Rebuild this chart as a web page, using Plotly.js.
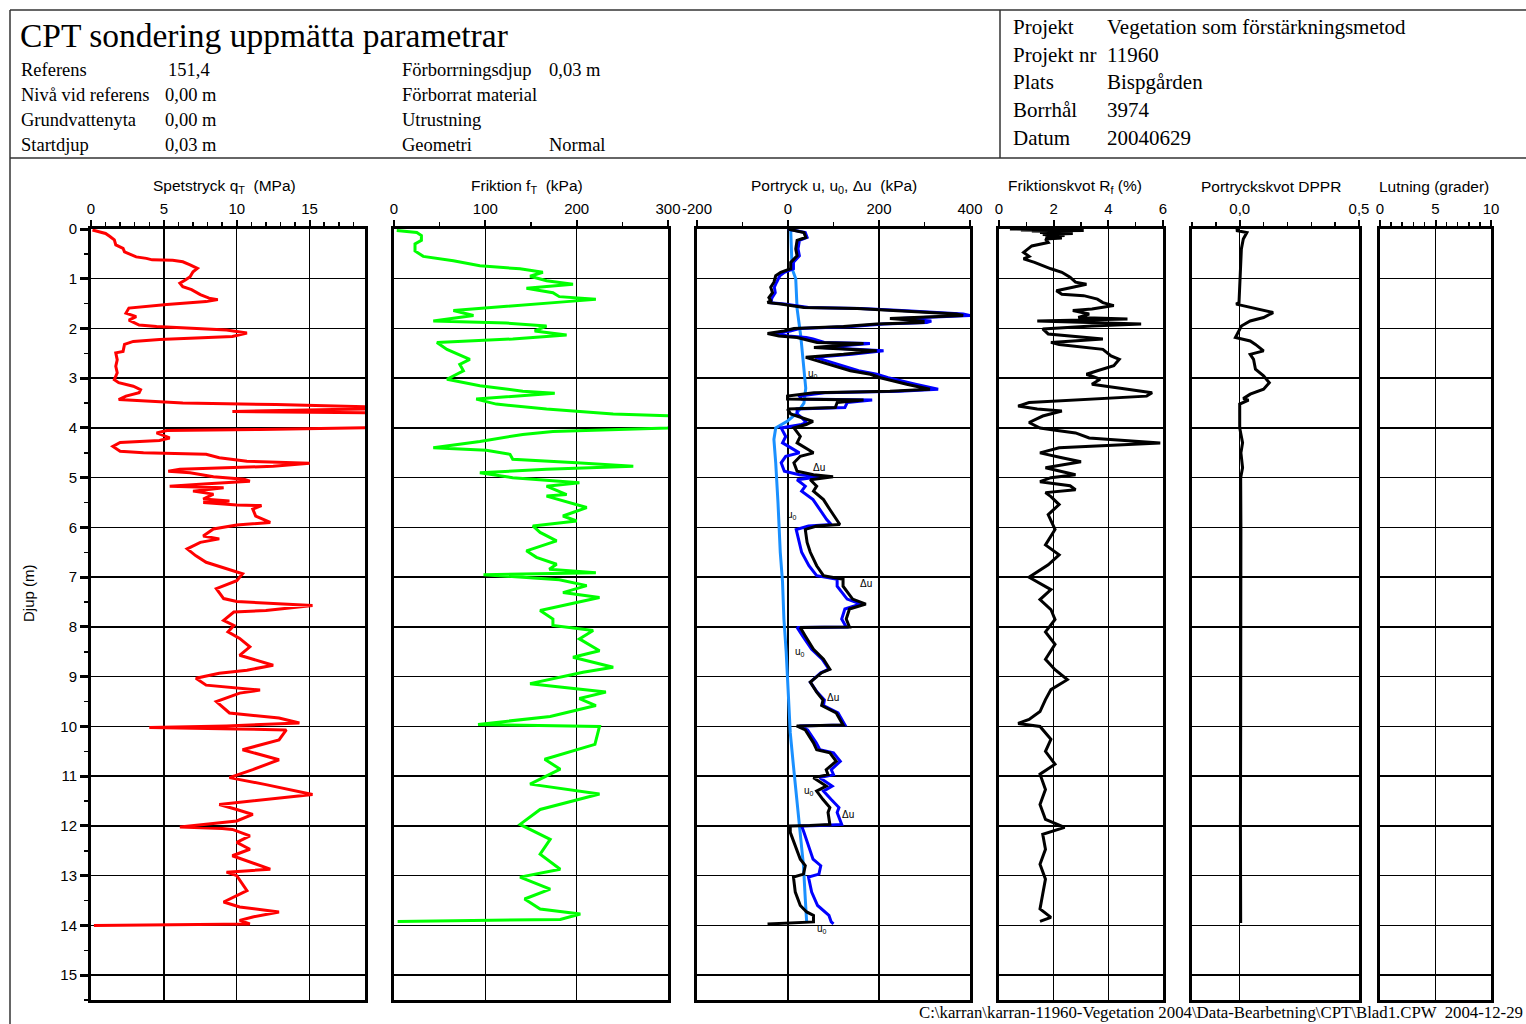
<!DOCTYPE html>
<html>
<head>
<meta charset="utf-8">
<script src="https://cdn.plot.ly/plotly-3.0.1.min.js"></script>
<style>html,body{margin:0;padding:0;background:#fff;}#chart{width:1526px;height:1024px;}</style>
</head>
<body>
<div id="chart"></div>
<script>
// ---------------- DATA ----------------
const depthTicks = [0,1,2,3,4,5,6,7,8,9,10,11,12,13,14,15];

// Spetstryck qT (MPa)
const qtDepth = [0.02,0.09,0.15,0.22,0.32,0.39,0.46,0.56,0.59,0.62,0.63,0.66,0.72,0.79,0.86,0.96,1.02,1.09,1.16,1.22,1.32,1.39,1.42,1.46,1.52,1.56,1.59,1.69,1.76,1.83,1.93,1.96,1.99,2.03,2.09,2.16,2.22,2.26,2.32,2.46,2.49,2.63,2.76,2.89,3.03,3.09,3.16,3.23,3.29,3.36,3.43,3.46,3.50,3.53,3.56,3.60,3.63,3.67,3.70,3.98,4.03,4.05,4.10,4.20,4.25,4.29,4.37,4.47,4.50,4.53,4.60,4.67,4.71,4.77,4.83,4.87,4.90,4.98,5.03,5.07,5.12,5.17,5.20,5.27,5.33,5.43,5.47,5.50,5.55,5.56,5.63,5.77,5.90,5.95,6.03,6.17,6.23,6.30,6.43,6.57,6.70,6.83,6.93,7.07,7.23,7.43,7.49,7.57,7.67,7.70,7.87,7.97,8.10,8.23,8.40,8.57,8.77,8.87,8.93,9.03,9.17,9.27,9.33,9.50,9.60,9.73,9.83,9.93,9.99,10.02,10.05,10.07,10.27,10.47,10.67,10.87,11.03,11.17,11.37,11.47,11.57,11.67,11.77,11.90,12.02,12.05,12.07,12.20,12.33,12.47,12.60,12.87,12.93,13.00,13.30,13.53,13.63,13.73,13.83,13.90,13.97,14.00];
const qtVal   = [0.1,1.0,1.3,1.6,1.7,2.2,2.3,3.1,3.8,4.2,5.6,6.3,6.8,7.3,7.0,6.8,6.5,6.1,6.3,6.9,7.5,8.1,8.7,7.9,5.2,3.8,2.6,2.4,3.1,2.6,3.3,4.5,6.5,9.3,10.7,9.7,4.7,2.9,2.3,2.2,1.7,1.8,1.7,1.8,1.6,1.9,2.9,3.4,3.3,2.4,1.9,3.8,6.3,12.7,15.7,22,16.6,9.7,22,22,11.6,5.2,4.5,5.4,4.7,2.0,1.5,2.0,3.6,7.9,8.8,10.7,15.0,12.5,6.1,5.3,6.8,8.4,10.5,10.9,8.0,5.4,9.1,7.0,8.4,7.7,9.5,7.7,10.0,11.7,11.1,11.3,12.3,10.0,8.4,7.7,8.8,7.5,6.6,7.2,7.9,9.3,10.4,10.0,8.6,9.1,10.0,15.2,12.0,9.8,9.1,9.8,9.4,10.2,10.9,10.2,12.5,10.7,8.8,7.2,7.9,11.6,10.2,8.6,9.0,9.5,12.9,14.3,9.3,4.0,10.0,13.4,12.9,10.4,12.9,11.1,9.5,12.0,15.2,11.8,8.8,10.0,11.1,10.0,6.1,9.0,9.7,10.9,10.0,10.9,9.7,12.3,9.3,10.0,10.7,9.1,10.2,12.9,11.1,10.2,10.9,0.2];

// Friktion fT (kPa)
const ftDepth = [0.03,0.07,0.13,0.23,0.30,0.44,0.55,0.64,0.74,0.80,0.87,0.95,1.04,1.11,1.19,1.28,1.36,1.41,1.46,1.54,1.60,1.64,1.74,1.85,1.89,1.95,2.05,2.13,2.21,2.28,2.42,2.62,2.72,2.85,3.02,3.15,3.26,3.30,3.42,3.52,3.62,3.72,3.76,3.93,4.00,4.07,4.13,4.27,4.40,4.45,4.53,4.63,4.70,4.77,4.83,4.90,5.00,5.10,5.17,5.34,5.37,5.60,5.77,5.87,5.97,6.10,6.27,6.47,6.60,6.74,6.84,6.91,6.95,7.05,7.17,7.31,7.41,7.51,7.67,7.84,7.97,8.07,8.24,8.48,8.61,8.81,8.91,9.14,9.31,9.44,9.58,9.80,9.96,10.00,10.36,10.66,10.86,11.16,11.36,11.46,11.67,11.97,12.27,12.57,12.87,13.03,13.27,13.47,13.67,13.77,13.88,13.92];
const ftVal   = [3,25,30,30,23,23,32,65,94,138,163,149,167,196,145,174,181,221,189,130,94,65,87,43,123,167,154,189,130,47,58,83,72,76,58,94,141,176,90,112,167,240,310,310,300,174,141,94,43,101,127,130,200,262,167,94,130,203,167,189,167,211,185,200,152,160,178,145,156,178,170,221,98,181,211,185,225,200,160,174,174,218,203,225,196,240,207,149,232,203,221,171,92,225,220,165,182,149,225,204,160,138,171,160,182,138,171,143,160,204,182,4];

// Portryck u0 (kPa)
const u0Depth = [0.03,0.8,1.0,1.6,2.15,2.8,3.2,3.5,3.7,3.86,4.0,4.23,4.7,5.5,6.5,7.1,7.84,8.5,9.18,9.7,10.13,10.8,11.47,12.13,12.8,13.47,13.93];
const u0Val   = [6,9,17,20,28,35,39,35,20,-1,-27,-31,-27,-22,-17,-12,-9,-4,0,4,5,12,19,27,34,38,41];

// Portryck u (kPa)
const uDepth = [0,0.07,0.17,0.23,0.4,0.54,0.67,0.8,0.87,0.94,1.07,1.17,1.28,1.38,1.48,1.51,1.58,1.6,1.64,1.71,1.74,1.8,1.85,1.88,1.91,1.96,2.0,2.05,2.1,2.15,2.18,2.21,2.28,2.3,2.38,2.45,2.52,2.58,2.65,2.75,2.85,2.92,2.99,3.12,3.22,3.26,3.29,3.36,3.42,3.44,3.49,3.59,3.62,3.72,3.79,3.89,3.93,4.0,4.17,4.3,4.5,4.57,4.7,4.87,4.94,4.98,5.04,5.17,5.27,5.44,5.64,5.84,5.94,5.97,6.04,6.3,6.5,6.77,6.97,7.04,7.18,7.44,7.54,7.64,7.84,8.0,8.01,8.18,8.45,8.65,8.85,8.92,9.05,9.11,9.31,9.47,9.58,9.73,9.97,9.99,10.07,10.33,10.47,10.53,10.7,10.87,10.97,11.03,11.2,11.3,11.47,11.63,11.73,11.97,11.99,12.0,12.13,12.4,12.67,12.8,12.97,13.03,13.33,13.6,13.73,13.8,13.93,13.97];
const uVal   = [-1,38,42,25,22,25,12,12,-8,-18,-25,-30,-28,-35,-38,-8,45,160,250,385,400,245,315,305,210,140,25,5,-30,0,40,55,80,180,75,210,140,60,85,120,155,195,220,280,330,245,80,25,30,185,130,125,20,20,30,40,30,-15,-5,-12,25,-5,-15,-8,25,70,20,38,30,55,70,85,95,45,18,24,30,46,63,108,108,130,160,125,118,128,20,32,52,75,90,72,55,49,64,80,78,110,125,25,43,62,70,100,115,95,100,70,97,78,95,112,108,118,70,30,35,45,55,72,68,45,52,65,80,90,95,100];

// Portryck Δu (kPa)
const duDepth = [0,0.07,0.17,0.23,0.4,0.54,0.67,0.8,0.87,0.94,1.07,1.17,1.28,1.38,1.44,1.48,1.51,1.58,1.6,1.64,1.71,1.74,1.8,1.85,1.88,1.91,1.96,2.0,2.05,2.1,2.15,2.18,2.21,2.28,2.3,2.38,2.45,2.52,2.58,2.65,2.75,2.85,2.92,2.99,3.12,3.22,3.26,3.29,3.36,3.42,3.44,3.49,3.59,3.62,3.72,3.79,3.87,3.93,4.0,4.17,4.3,4.5,4.57,4.7,4.87,4.94,4.98,5.04,5.17,5.27,5.44,5.64,5.84,5.94,5.97,6.04,6.3,6.5,6.77,6.97,7.04,7.18,7.44,7.54,7.64,7.84,8.0,8.01,8.18,8.45,8.65,8.85,8.92,9.05,9.11,9.31,9.47,9.58,9.73,9.97,9.99,10.07,10.33,10.47,10.53,10.7,10.87,10.97,11.03,11.2,11.3,11.47,11.63,11.73,11.97,11.99,12.0,12.13,12.4,12.67,12.8,12.97,13.03,13.33,13.6,13.73,13.8,13.93,13.97];
const duVal   = [-1,35,39,20,17,20,6,6,-16,-27,-31,-38,-34,-42,-38,-45,-16,35,152,239,370,385,224,297,297,195,122,13,-9,-45,-20,20,35,64,166,57,195,122,39,64,101,137,181,203,261,312,224,57,-1,-1,166,108,104,-1,6,28,55,40,13,27,20,56,27,13,20,56,99,49,63,56,78,92,106,114,63,38,42,49,63,78,121,121,142,171,135,128,135,27,38,56,78,92,74,56,49,63,77,74,106,121,19,38,56,63,92,106,84,88,56,84,63,77,92,88,92,48,5,5,16,27,38,34,12,16,27,41,56,56,-45];

// Friktionskvot Rf (%)
const rfDepth = [0.0,0.01,0.02,0.03,0.04,0.05,0.07,0.09,0.11,0.13,0.15,0.18,0.2,0.27,0.34,0.47,0.55,0.6,0.67,0.8,0.87,0.97,1.07,1.11,1.17,1.24,1.31,1.34,1.41,1.48,1.54,1.61,1.64,1.71,1.78,1.81,1.85,1.91,1.95,2.01,2.11,2.21,2.28,2.32,2.42,2.55,2.62,2.75,2.85,2.92,3.02,3.12,3.22,3.29,3.36,3.42,3.49,3.56,3.62,3.66,3.76,3.89,4.0,4.04,4.1,4.2,4.3,4.4,4.5,4.6,4.68,4.8,4.94,5.0,5.08,5.16,5.24,5.3,5.38,5.54,5.74,6.04,6.35,6.55,6.75,7.0,7.25,7.45,7.65,7.85,8.1,8.35,8.65,8.86,9.06,9.26,9.46,9.7,9.86,9.94,10.0,10.26,10.5,10.76,10.96,11.27,11.57,11.87,12.03,12.17,12.47,12.77,13.07,13.37,13.67,13.84,13.92];
const rfVal   = [0.4,2.0,0.8,3.1,1.2,2.5,1.5,2.7,1.6,2.4,1.7,2.3,1.7,1.8,1.2,0.9,1.1,0.9,1.3,1.9,2.3,2.6,2.8,3.2,2.7,2.1,2.3,3.1,3.6,3.8,4.2,3.4,2.7,3.3,2.9,4.7,1.4,5.2,3.4,1.6,1.8,3.8,1.9,2.2,3.8,4.1,4.4,4.2,3.6,3.2,3.7,3.4,4.7,5.6,5.4,3.2,1.1,0.7,1.4,2.3,1.6,1.1,1.5,2.0,2.8,3.3,5.9,2.2,1.5,2.3,3.0,1.7,2.8,1.9,1.5,2.6,2.8,1.7,1.9,2.2,1.8,2.05,1.7,2.2,1.8,1.1,1.9,1.5,1.9,2.05,1.7,2.05,1.7,2.05,2.5,1.9,1.7,1.5,1.1,0.7,1.5,1.9,1.7,2.05,1.5,1.7,1.5,1.7,2.4,1.6,1.7,1.5,1.7,1.6,1.5,1.9,1.5];

// Portryckskvot DPPR
const dpDepth = [0.0,0.03,0.07,0.2,0.4,1.0,1.48,1.51,1.61,1.68,1.78,1.85,1.95,2.01,2.18,2.25,2.32,2.45,2.52,2.62,2.82,2.95,3.09,3.22,3.32,3.41,3.44,3.52,4.0,4.3,4.5,4.8,5.0,6.0,8.0,10.0,12.0,13.95];
const dpVal   = [0.0,-0.015,0.03,0.015,0.007,0.0,-0.003,-0.015,0.073,0.14,0.1,0.044,0.007,0.0,-0.018,0.044,0.066,0.1,0.044,0.058,0.066,0.1,0.124,0.1,0.044,0.015,0.037,0.0,0.0,0.012,0.005,0.012,0.004,0.005,0.006,0.004,0.003,0.004];

// Axis tick labels
const qtTicks = [0,5,10,15];
const ftTicks = [0,100,200,300];
const uTicks  = [-200,0,200,400];
const rfTicks = [0,2,4,6];
const dpTicks = [0,0.5];
const dpTickText = ['0,0','0,5'];
const lutTicks = [0,5,10];

// Labels on the pore pressure curves
const uLabelText  = ['u<sub>0</sub>','Δu','u<sub>0</sub>','Δu','u<sub>0</sub>','Δu','u<sub>0</sub>','Δu','u<sub>0</sub>'];
const uLabelDepth = [2.91,4.8,5.74,7.13,8.51,9.42,11.3,11.77,14.08];
const uLabelVal   = [40,50,-7,154,11,81,31,114,59];

// ---------------- LAYOUT ----------------
const W = 1526, H = 1024;
const px = v => v / W;
const py = v => 1 - v / H;
const yDom = [py(1000), py(229)];
const SANS = 'Liberation Sans, Arial, sans-serif';
const SERIF = 'Liberation Serif, Times New Roman, serif';

const panelPix = [[91,365],[394,668],[697,970],[999,1163],[1192,1359],[1380,1491]];

function xAxis(i, range, tickvals, ticktext, minorVals) {
  return {
    domain: [px(panelPix[i][0]), px(panelPix[i][1])],
    range: range, side: 'top', anchor: i === 0 ? 'y' : 'y' + (i + 1),
    tickmode: 'array', tickvals: tickvals, ticktext: ticktext,
    ticks: 'outside', ticklen: 6, tickwidth: 2, tickcolor: '#000',
    showgrid: true, gridcolor: '#000', gridwidth: 1.5,
    zeroline: false, showline: true, linecolor: '#000', linewidth: 3, mirror: true,
    tickfont: {family: SANS, size: 15, color: '#000'},
    minor: {tickmode: 'array', tickvals: minorVals, ticks: 'outside', ticklen: 4, tickwidth: 1.5, tickcolor: '#000', showgrid: false},
    fixedrange: true
  };
}
function yAxis(i) {
  const first = i === 0;
  return {
    domain: yDom, range: [15.5, 0], anchor: first ? 'x' : 'x' + (i + 1),
    tickmode: 'array', tickvals: depthTicks,
    showticklabels: first, ticks: first ? 'outside' : '', ticklen: 8, tickwidth: 3, tickcolor: '#000',
    showgrid: true, gridcolor: '#000', gridwidth: 1.5,
    zeroline: false, showline: true, linecolor: '#000', linewidth: 3, mirror: true,
    tickfont: {family: SANS, size: 15, color: '#000'},
    minor: first ? {dtick: 0.5, ticks: 'outside', ticklen: 4, tickwidth: 1.5, tickcolor: '#000', showgrid: false} : {ticks: '', showgrid: false},
    fixedrange: true
  };
}

const layout = {
  width: W, height: H, margin: {l: 0, r: 0, t: 0, b: 0},
  paper_bgcolor: '#fff', plot_bgcolor: '#fff', showlegend: false,
  font: {family: SANS, color: '#000'},
  xaxis:  xAxis(0, [0, 18.8], qtTicks, qtTicks.map(String), [1,2,3,4,6,7,8,9,11,12,13,14,16,17,18]),
  xaxis2: xAxis(1, [0, 300], ftTicks, ftTicks.map(String), [50,150,250]),
  xaxis3: xAxis(2, [-200, 400], uTicks, uTicks.map(String), [-100,100,300]),
  xaxis4: xAxis(3, [0, 6], rfTicks, rfTicks.map(String), [1,3,5]),
  xaxis5: xAxis(4, [-0.2, 0.5], dpTicks, dpTickText, [-0.2,-0.1,0.1,0.2,0.3,0.4]),
  xaxis6: xAxis(5, [0, 10], lutTicks, lutTicks.map(String), [1,2,3,4,6,7,8,9]),
  yaxis: yAxis(0), yaxis2: yAxis(1), yaxis3: yAxis(2), yaxis4: yAxis(3), yaxis5: yAxis(4), yaxis6: yAxis(5),
  shapes: [
    {type:'line', xref:'paper', yref:'paper', x0:px(10), x1:1, y0:py(10), y1:py(10), line:{color:'#333', width:1.5}},
    {type:'line', xref:'paper', yref:'paper', x0:px(10), x1:1, y0:py(158), y1:py(158), line:{color:'#333', width:1.5}},
    {type:'line', xref:'paper', yref:'paper', x0:px(10), x1:px(10), y0:py(10), y1:0, line:{color:'#333', width:1.5}},
    {type:'line', xref:'paper', yref:'paper', x0:px(1000), x1:px(1000), y0:py(10), y1:py(158), line:{color:'#333', width:1.5}}
  ],
  annotations: []
};

function txt(text, x, y, opts) {
  layout.annotations.push(Object.assign({
    text: text, xref: 'paper', yref: 'paper', x: px(x), y: py(y),
    xanchor: 'left', yanchor: 'middle', showarrow: false,
    font: {family: SERIF, size: 18.5, color: '#000'}
  }, opts || {}));
}

// header
txt('CPT sondering uppmätta parametrar', 18, 35, {font: {family: SERIF, size: 33.5, color: '#000'}});
const hdrL = ['Referens', 'Nivå vid referens', 'Grundvattenyta', 'Startdjup'];
const hdrLV = ['151,4', '0,00 m', '0,00 m', '0,03 m'];
const hdrM = ['Förborrningsdjup', 'Förborrat material', 'Utrustning', 'Geometri'];
const hdrMV = ['0,03 m', '', '', 'Normal'];
const rowY = [70, 95, 120, 145];
hdrL.forEach((t, i) => txt(t, 19, rowY[i]));
hdrLV.forEach((t, i) => { if (i === 0) txt(t, 212, rowY[i], {xanchor: 'right'}); else txt(t, 163, rowY[i]); });
hdrM.forEach((t, i) => txt(t, 400, rowY[i]));
hdrMV.forEach((t, i) => { if (t) txt(t, 547, rowY[i]); });
const hdrR = ['Projekt', 'Projekt nr', 'Plats', 'Borrhål', 'Datum'];
const hdrRV = ['Vegetation som förstärkningsmetod', '11960', 'Bispgården', '3974', '20040629'];
const rowYR = [27, 55, 82, 110, 138];
hdrR.forEach((t, i) => txt(t, 1011, rowYR[i], {font: {family: SERIF, size: 21, color: '#000'}}));
hdrRV.forEach((t, i) => txt(t, 1105, rowYR[i], {font: {family: SERIF, size: 21, color: '#000'}}));

// panel titles
const titles = ['Spetstryck q<sub>T</sub>  (MPa)', 'Friktion f<sub>T</sub>  (kPa)', 'Portryck u, u<sub>0</sub>, Δu  (kPa)', 'Friktionskvot R<sub>f</sub> (%)', 'Portryckskvot DPPR', 'Lutning (grader)'];
const titleX = [224, 527, 834, 1075, 1271, 1434];
titles.forEach((t, i) => txt(t, titleX[i], 186, {xanchor: 'center', font: {family: SANS, size: 15.5, color: '#000'}}));

txt('Djup (m)', 28, 593, {xanchor: 'center', textangle: -90, font: {family: SANS, size: 15, color: '#000'}});
txt('C:\\karran\\karran-11960-Vegetation 2004\\Data-Bearbetning\\CPT\\Blad1.CPW  2004-12-29', 1525, 1024, {xanchor: 'right', yanchor: 'bottom', font: {family: SERIF, size: 16.8, color: '#000'}});

uLabelText.forEach((t, i) => layout.annotations.push({
  text: t, xref: 'x3', yref: 'y3', x: uLabelVal[i], y: uLabelDepth[i],
  xanchor: 'left', yanchor: 'middle', showarrow: false,
  font: {family: SANS, size: 10, color: '#000'}
}));

// ---------------- TRACES ----------------
const line = (x, y, xa, ya, color, w) => ({
  type: 'scatter', mode: 'lines', x: x, y: y, xaxis: xa, yaxis: ya,
  line: {color: color, width: w || 3}, hoverinfo: 'skip'
});
const data = [
  line(qtVal, qtDepth, 'x', 'y', '#ff0000'),
  line(ftVal, ftDepth, 'x2', 'y2', '#00ff00'),
  line(u0Val, u0Depth, 'x3', 'y3', '#1a90ff'),
  line(uVal, uDepth, 'x3', 'y3', '#0000ff'),
  line(duVal, duDepth, 'x3', 'y3', '#000000'),
  line(rfVal, rfDepth, 'x4', 'y4', '#000000'),
  line(dpVal, dpDepth, 'x5', 'y5', '#000000'),
  {type: 'scatter', mode: 'lines', x: [], y: [], xaxis: 'x6', yaxis: 'y6', hoverinfo: 'skip'}
];

Plotly.newPlot('chart', data, layout, {displayModeBar: false, staticPlot: true});
</script>
</body>
</html>
